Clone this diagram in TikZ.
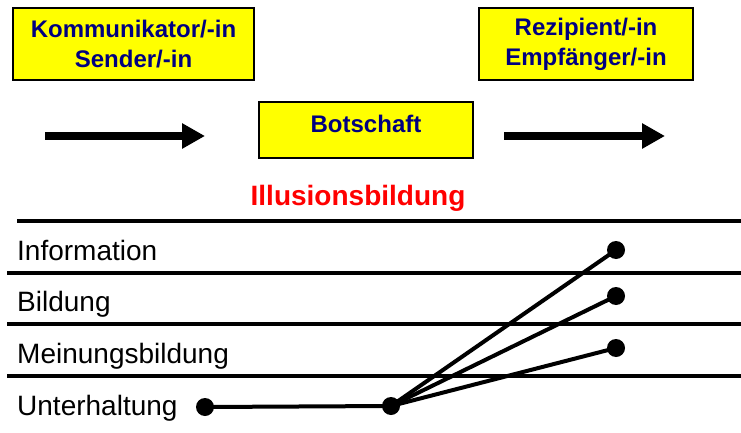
\documentclass[tikz,border=0pt]{standalone}
\usepackage{fontspec}
\setmainfont{Liberation Sans}
\usetikzlibrary{arrows.meta}
\definecolor{boxyellow}{RGB}{255,255,0}
\definecolor{boxtext}{RGB}{0,0,128}
\begin{document}
\begin{tikzpicture}[x=1pt, y=-1pt,
    role/.style={draw, line width=1.2pt, fill=boxyellow, text=boxtext, align=center,
                 font=\fontsize{24}{30}\selectfont\bfseries, inner sep=0pt},
    flow/.style={-{Triangle[length=23pt,width=24pt]}, line width=7pt},
    level/.style={anchor=base west, inner sep=0pt, font=\fontsize{28}{30}\selectfont},
    rule/.style={line width=4pt},
    dot/.style={circle, fill, inner sep=0pt, minimum size=18pt},
    link/.style={line width=4pt}]
  \useasboundingbox (0,0) rectangle (741,433);

  % boxes
  \node[role, minimum width=241pt, minimum height=72pt] (sender)   at (133.5, 44) {Kommunikator/-in\\Sender/-in};
  \node[role, minimum width=214pt, minimum height=72pt] (receiver) at (586,   44) {Rezipient/-in\\Empfänger/-in};
  \node[role, minimum width=214pt, minimum height=56pt, text height=17pt, text depth=13pt] (message) at (366, 130) {Botschaft};

  % arrows
  \coordinate (a1s) at (45,136);  \coordinate (a1e) at (205,136);
  \coordinate (a2s) at (504,136); \coordinate (a2e) at (665,136);
  \draw [flow] (a1s) -- (a1e);
  \draw [flow] (a2s) -- (a2e);

  \node[font=\fontsize{28}{30}\selectfont\bfseries, text=red, anchor=base] (illusion) at (358, 205) {Illusionsbildung};

  % levels
  \draw [rule] (17,221) -- (741,221);
  \draw [rule] (7,272.5) -- (741,272.5);
  \draw [rule] (7,324) -- (741,324);
  \draw [rule] (7,375.5) -- (741,375.5);
  \node[level] (inf) at (17,260) {Information};
  \node[level] (bil) at (17,311) {Bildung};
  \node[level] (mei) at (17,363) {Meinungsbildung};
  \node[level] (unt) at (17,415) {Unterhaltung};

  % dots
  \node[dot] (d0) at (205,407) {};
  \node[dot] (hub) at (391,406) {};
  \node[dot] (d1) at (616,250) {};
  \node[dot] (d2) at (616,296) {};
  \node[dot] (d3) at (616,348) {};
  \draw [link] (d0.center) -- (hub.center);
  \draw [link] (hub.center) -- (d1.center);
  \draw [link] (hub.center) -- (d2.center);
  \draw [link] (hub.center) -- (d3.center);
\end{tikzpicture}
\end{document}
